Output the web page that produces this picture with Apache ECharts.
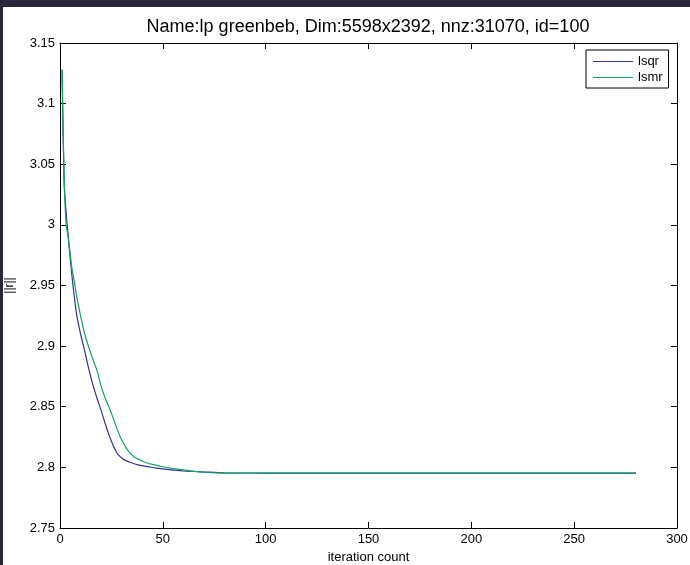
<!DOCTYPE html>
<html>
<head>
<meta charset="utf-8">
<script src="https://cdn.jsdelivr.net/npm/echarts@6/dist/echarts.min.js"></script>
<style>
html,body{margin:0;padding:0;background:#2b2539;}
#c{width:690px;height:565px;}
</style>
</head>
<body>
<div id="c"></div>
<script>
var titleText = 'Name:lp greenbeb, Dim:5598x2392, nnz:31070, id=100';
var seriesNames = ['lsqr', 'lsmr'];
var lsqrIter = [1,2,3,4,5,6,8,10,12,14,16,18,20,22,24,26,27,28,29,30,31,32,34,36,38,41,45,50,55,60,70,80,100,150,200,250,280];
var lsqrVal  = [3.128,3.035,3.010,2.990,2.972,2.955,2.927,2.910,2.896,2.881,2.868,2.857,2.847,2.836,2.826,2.8175,2.814,2.811,2.8093,2.8078,2.8066,2.8056,2.8042,2.803,2.8021,2.801,2.7999,2.7987,2.7978,2.797,2.7962,2.7955,2.7953,2.7953,2.7953,2.7953,2.7953];
var lsmrIter = [1,2,3,4,5,6,7,8,10,12,14,16,18,20,22,24,26,28,30,32,34,36,38,40,42,46,50,55,60,66,76,100,150,200,250,280];
var lsmrVal  = [3.128,3.040,3.000,2.990,2.975,2.962,2.953,2.942,2.925,2.910,2.899,2.889,2.880,2.867,2.857,2.849,2.840,2.8305,2.8225,2.8165,2.812,2.8088,2.8068,2.8052,2.8038,2.802,2.8005,2.799,2.798,2.7966,2.7955,2.7953,2.7953,2.7953,2.7953,2.7953];
var xTicks = {min: 0, max: 300, interval: 50};
var yTicks = {min: 2.75, max: 3.15, interval: 0.05};

function pairs(xs, ys){ return xs.map(function(x,i){ return [x, ys[i]]; }); }

var FONT = 'Liberation Sans, Arial, sans-serif';
var chart = echarts.init(document.getElementById('c'), null, {renderer: 'canvas'});
var axisCommon = {
  type: 'value',
  axisLine: {show: true, onZero: false, lineStyle: {color: '#000', width: 1}},
  axisTick: {show: true, inside: true, length: 6, lineStyle: {color: '#000'}},
  splitLine: {show: false}
};
chart.setOption({
  backgroundColor: '#2b2539',
  animation: false,
  graphic: [{type: 'rect', z: -10, shape: {x: 3, y: 7, width: 687, height: 558}, style: {fill: '#ffffff'}}],
  title: {text: titleText, left: 363, top: 13, textAlign: 'center',
    textStyle: {fontFamily: FONT, fontSize: 18, fontWeight: 'normal', color: '#000'}},
  grid: {left: 60, right: 13, top: 43, bottom: 37, containLabel: false, outerBoundsMode: 'none'},
  legend: {
    data: seriesNames, orient: 'vertical', left: 586, top: 50,
    backgroundColor: '#fff', borderColor: '#000', borderWidth: 1,
    padding: [5, 6, 4, 7], itemGap: 3, itemWidth: 40, itemHeight: 1,
    icon: 'rect', align: 'left',
    textStyle: {fontFamily: FONT, fontSize: 13, color: '#000'}
  },
  xAxis: [
    Object.assign({}, axisCommon, xTicks, {position: 'bottom',
      name: 'iteration count', nameLocation: 'middle', nameGap: 20,
      nameTextStyle: {fontFamily: FONT, fontSize: 13, color: '#000'},
      axisLabel: {fontFamily: FONT, fontSize: 13, color: '#000', margin: 5}}),
    Object.assign({}, axisCommon, xTicks, {position: 'top', axisLabel: {show: false}})
  ],
  yAxis: [
    Object.assign({}, axisCommon, yTicks, {position: 'left',
      name: '||r||', nameLocation: 'middle', nameGap: 44, nameRotate: 90,
      nameTextStyle: {fontFamily: FONT, fontSize: 12, color: '#000'},
      axisLabel: {fontFamily: FONT, fontSize: 13, color: '#000', margin: 5,
        formatter: function(v){ return String(+v.toFixed(2)); }}}),
    Object.assign({}, axisCommon, yTicks, {position: 'right', axisLabel: {show: false}})
  ],
  series: [
    {name: seriesNames[0], type: 'line', data: pairs(lsqrIter, lsqrVal), smooth: 0.25,
      showSymbol: false, symbol: 'none', color: '#32329a', lineStyle: {width: 1.2, color: '#32329a'}, itemStyle: {color: '#32329a'}, z: 3},
    {name: seriesNames[1], type: 'line', data: pairs(lsmrIter, lsmrVal), smooth: 0.25,
      showSymbol: false, symbol: 'none', color: '#10a35e', lineStyle: {width: 1.2, color: '#10a35e'}, itemStyle: {color: '#10a35e'}, z: 4}
  ]
});
</script>
</body>
</html>
